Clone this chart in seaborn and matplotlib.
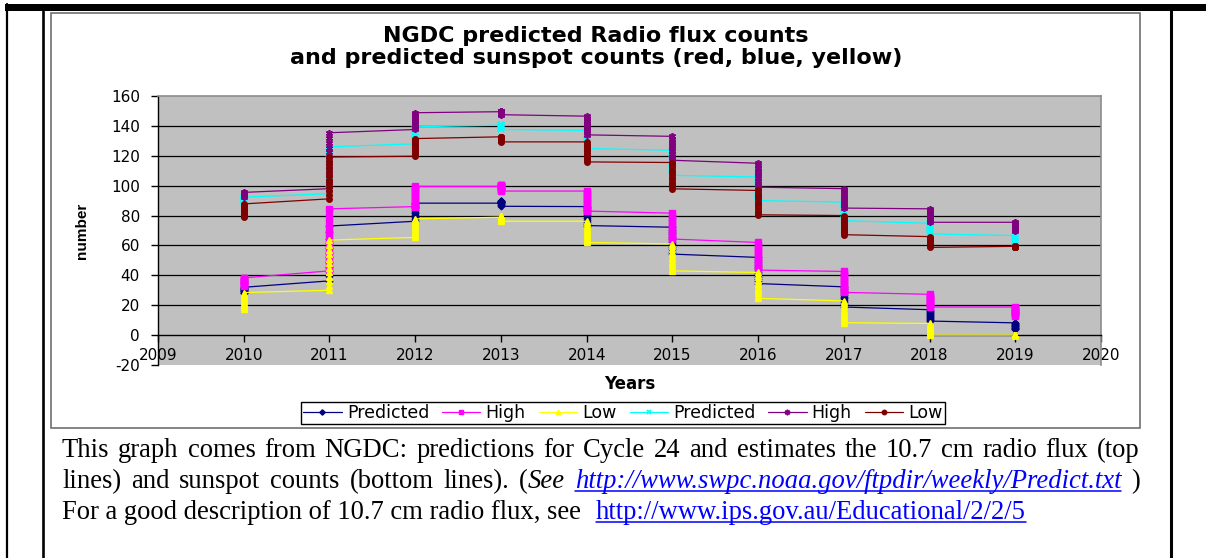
import numpy as np
import pandas as pd
import matplotlib
matplotlib.use("Agg")
import matplotlib.pyplot as plt
import seaborn as sns
from matplotlib.lines import Line2D
from matplotlib.patches import Rectangle

# ---------------- data (monthly values, 12 per year) -------------
years = [2010, 2011, 2012, 2013, 2014, 2015, 2016, 2017, 2018, 2019]

pred_ssn = [
    28, 28.4, 28.8, 29.2, 29.5, 29.9, 30.3, 30.6, 31, 31.3, 31.6, 32,
    36.3, 39.5, 42.6, 45.8, 49, 52, 55, 58, 61.5, 64.5, 68.8, 73,
    76.2, 77.5, 79, 80.2, 81.4, 82.6, 83.7, 84.8, 85.8, 86.7, 87.5, 88.3,
    88.3, 88.8, 89.2, 89.5, 89.6, 89.6, 89.4, 89, 88.5, 87.9, 87.1, 86.2,
    86, 85, 83.9, 82.8, 81.7, 80.6, 79.5, 78.3, 77.1, 75.9, 74.6, 73.3,
    72.2, 70.6, 69, 67.4, 65.8, 64.1, 62.5, 60.8, 59.1, 57.4, 55.8, 54.2,
    52, 50.4, 48.8, 47.2, 45.6, 44, 42.4, 40.8, 39.2, 37.6, 36, 34.5,
    32.3, 31, 29.7, 28.4, 27.1, 25.8, 24.6, 23.4, 22.2, 21, 19.9, 18.8,
    17, 16.3, 15.6, 14.9, 14.2, 13.5, 12.8, 12.1, 11.4, 10.7, 10, 9.4,
    8.2, 7.8, 7.4, 7, 6.6, 6.2, 5.8, 5.4, 5, 4.7, 4.4, 4.1,
]
high_ssn = [
    33, 33.5, 34, 34.5, 35, 35.5, 36, 36.5, 37, 37.5, 38, 38.3,
    43, 46.5, 50, 54, 57.5, 61, 65, 68.5, 72, 76, 80, 84.5,
    86, 87.5, 89, 90, 91.5, 93, 94, 95.5, 96.5, 97.5, 98.5, 99.5,
    99.5, 100, 100.2, 100.3, 100.2, 100, 99.6, 99.2, 98.6, 98, 97.2, 96.4,
    96.4, 95.5, 94.5, 93.3, 92, 91, 89.8, 88.5, 87.2, 85.8, 84.4, 83,
    81.6, 80, 78.3, 76.6, 75, 73.3, 71.6, 70, 68.3, 66.6, 65.2, 64.3,
    62, 60.3, 58.6, 57, 55.3, 53.6, 52, 50.4, 48.8, 47.2, 45.4, 43.5,
    42.6, 41.3, 40, 38.7, 37.4, 36, 34.7, 33.4, 32.2, 31, 29.8, 28.6,
    27.3, 26.5, 25.7, 24.9, 24, 23.3, 22.5, 21.7, 21, 20.2, 19.5, 18.8,
    18.8, 18.2, 17.6, 17.1, 16.6, 16, 15.5, 15, 14.5, 14, 13.5, 13,
]
low_ssn = [
    17.5, 18.5, 19.5, 20.5, 21.5, 22.5, 23.5, 24.5, 25.5, 26.5, 27.5, 28.5,
    30, 33, 36, 39, 42, 45, 48, 51, 54, 57, 60.3, 63.6,
    65.4, 66.7, 68, 69.3, 70.6, 71.8, 73, 74.1, 75.2, 76.2, 77.1, 77.8,
    78.9, 79.3, 79.6, 79.8, 79.8, 79.6, 79.3, 78.9, 78.4, 77.8, 77, 76.2,
    76.2, 75, 73.7, 72.4, 71.1, 69.8, 68.4, 67, 65.6, 64.2, 63, 62,
    61, 59.3, 57.6, 55.9, 54.2, 52.5, 50.8, 49.2, 47.6, 46, 44.5, 43,
    41.9, 40.3, 38.7, 37.1, 35.5, 34, 32.5, 31, 29.5, 28, 26.3, 24.6,
    22.9, 21.4, 19.9, 18.5, 17.1, 15.7, 14.4, 13.1, 11.9, 10.7, 9.5, 8.3,
    7.8, 7, 6.2, 5.4, 4.6, 3.8, 3, 2.3, 1.6, 1, 0.5, 0,
    0, 0, 0, 0, 0, 0, 0, 0, 0, 0, 0, 0,
]
pred_flux = [
    89, 89.3, 89.6, 89.9, 90.2, 90.5, 90.8, 91.1, 91.4, 91.7, 92, 92.3,
    94.6, 97.5, 100.5, 103.5, 106.5, 109.5, 112.3, 115, 117.8, 120.5, 123.2, 126,
    128, 129.2, 130.4, 131.5, 132.6, 133.7, 134.8, 135.8, 136.8, 137.7, 138.6, 139.4,
    140.5, 140.7, 140.8, 140.8, 140.6, 140.3, 140, 139.6, 139.2, 138.7, 138.2, 137.6,
    137, 135.9, 134.8, 133.7, 132.6, 131.5, 130.4, 129.3, 128.2, 127.1, 126, 124.8,
    123.7, 122.2, 120.7, 119.2, 117.6, 116, 114.4, 112.8, 111.2, 109.6, 108.2, 106.9,
    105.8, 104.4, 103, 101.6, 100.2, 98.8, 97.4, 96, 94.6, 93.2, 91.6, 90,
    89, 87.9, 86.8, 85.7, 84.6, 83.5, 82.4, 81.3, 80.2, 79, 77.8, 76.6,
    74.8, 74.2, 73.6, 73, 72.4, 71.8, 71.1, 70.4, 69.7, 69, 68.3, 67.7,
    66.6, 66.1, 65.6, 65.1, 64.6, 64.1, 63.6, 63.1, 62.6, 62.1, 61.6, 61.1,
]
high_flux = [
    92.5, 92.8, 93, 93.3, 93.6, 93.9, 94.2, 94.5, 94.8, 95, 95.3, 95.5,
    98, 101.5, 105, 108.5, 112, 115.5, 119, 122.5, 125.5, 128.5, 132, 135.4,
    137.6, 138.8, 140, 141.2, 142.3, 143.4, 144.5, 145.5, 146.5, 147.4, 148.2, 148.8,
    149.5, 149.8, 150, 150, 149.9, 149.7, 149.4, 149, 148.6, 148.2, 147.8, 147.5,
    146.5, 145.4, 144.3, 143.2, 142.1, 141, 139.9, 138.8, 137.7, 136.5, 135.3, 134,
    133, 131.5, 130, 128.6, 127.2, 125.8, 124.4, 123, 121.5, 120, 118.5, 117,
    115, 113.5, 112, 110.5, 109, 107.6, 106.2, 104.8, 103.4, 102, 100.5, 99,
    98, 96.8, 95.6, 94.4, 93.2, 92, 90.8, 89.6, 88.5, 87.3, 86.1, 85,
    84.5, 83.7, 82.9, 82.1, 81.3, 80.5, 79.7, 78.9, 78, 77.1, 76.3, 75.5,
    75.5, 75, 74.5, 74, 73.5, 73, 72.5, 72, 71.5, 71, 70.5, 70,
]
low_flux = [
    79, 79.8, 80.6, 81.4, 82.2, 83, 83.8, 84.6, 85.4, 86.2, 87, 87.8,
    91.2, 93.8, 96.4, 99, 101.5, 104, 106.6, 109.2, 111.8, 114.3, 116.8, 119.2,
    119.7, 121, 122.3, 123.5, 124.7, 125.9, 127, 128.1, 129.1, 130, 130.8, 131.5,
    132.7, 132.8, 132.8, 132.6, 132.3, 132, 131.6, 131.2, 130.7, 130.2, 129.8, 129.3,
    129.3, 128.1, 126.9, 125.7, 124.5, 123.3, 122.1, 120.8, 119.6, 118.3, 117.1, 115.9,
    115.5, 113.9, 112.3, 110.7, 109.1, 107.5, 105.9, 104.3, 102.7, 101.1, 99.5, 97.9,
    96.8, 95.3, 93.8, 92.3, 90.8, 89.3, 87.8, 86.3, 84.8, 83.3, 81.9, 80.5,
    80, 78.8, 77.6, 76.4, 75.2, 74, 72.8, 71.6, 70.4, 69.2, 68.1, 67.2,
    65.9, 65.3, 64.7, 64.1, 63.4, 62.7, 62, 61.3, 60.6, 59.9, 59.3, 58.7,
    59.4, 59.4, 59.3, 59.3, 59.2, 59.2, 59.1, 59.1, 59, 59, 59, 59,
]

legend_labels = ["Predicted", "High", "Low", "Predicted", "High", "Low"]
y_ticks = [-20, 0, 20, 40, 60, 80, 100, 120, 140, 160]
x_ticks = [2009, 2010, 2011, 2012, 2013, 2014, 2015, 2016, 2017, 2018, 2019, 2020]

title_lines = ["NGDC predicted Radio flux counts",
               "and predicted sunspot counts (red, blue, yellow)"]
caption1 = "This graph comes from NGDC: predictions for Cycle 24 and estimates the 10.7 cm radio flux (top"
caption2_words = ["lines)", "and", "sunspot", "counts", "(bottom", "lines)."]
link1 = "http://www.swpc.noaa.gov/ftpdir/weekly/Predict.txt"
caption3 = "For a good description of 10.7 cm radio flux, see"
link2 = "http://www.ips.gov.au/Educational/2/2/5"

# ---------------- figure -------------
sns.set_theme(style="white")
plt.rcParams['font.family'] = ['DejaVu Sans']
plt.rcParams['axes.unicode_minus'] = False
plt.rcParams['text.color'] = 'black'
plt.rcParams['axes.labelcolor'] = 'black'
plt.rcParams['xtick.color'] = 'black'
plt.rcParams['ytick.color'] = 'black'

W, H = 1208, 558
fig = plt.figure(figsize=(W / 100, H / 100), dpi=100)
fig.patch.set_facecolor("white")

def fx(x):
    return x / W

def fy(y):
    return 1 - y / H

# page frame lines
fig.add_artist(Rectangle((fx(5), fy(11)), fx(1206) - fx(5), fy(4) - fy(11),
                         transform=fig.transFigure, facecolor="black", edgecolor="none"))
for xp, lw, y0 in [(7, 1.6, 4), (43, 1.9, 11), (1171, 2.2, 11)]:
    fig.add_artist(Line2D([fx(xp), fx(xp)], [fy(y0), fy(558)], transform=fig.transFigure,
                          color="black", lw=lw))
# chart box
fig.add_artist(Rectangle((fx(51), fy(428)), fx(1140) - fx(51), fy(13) - fy(428),
                         transform=fig.transFigure, facecolor="white",
                         edgecolor="#707070", lw=1.2, zorder=0))

ax = fig.add_axes([fx(158), fy(365), (1101 - 158) / W, (365 - 96) / H])
ax.set_facecolor("#C0C0C0")
ax.set_xlim(2009, 2020)
ax.set_ylim(-20, 160)

for v in y_ticks:
    if 0 < v < 160:
        ax.axhline(v, color="black", lw=0.9, zorder=1)

x_month = np.repeat(years, 12)
styles = [
    (pred_ssn, "#000080", "D", 3.4, 1.0),
    (high_ssn, "#FF00FF", "s", 3.8, 1.0),
    (low_ssn, "#FFFF00", "^", 4.4, 1.0),
    (pred_flux, "#00FFFF", "x", 4.0, 1.3),
    (high_flux, "#800080", (6, 2, 0), 5.0, 1.2),
    (low_flux, "#800000", "o", 4.0, 1.0),
]
handles = []
for (vals, color, marker, ms, mew), lab in zip(styles, legend_labels):
    df = pd.DataFrame({"year": x_month, "value": vals})
    sns.lineplot(data=df, x="year", y="value", ax=ax, estimator=None, sort=False,
                 color=color, marker=marker, markersize=ms, markeredgecolor=color,
                 markerfacecolor=color, markeredgewidth=mew, linewidth=0.9,
                 legend=False, zorder=3)
    handles.append(Line2D([], [], color=color, marker=marker, markersize=ms * 0.8,
                          markeredgecolor=color, markerfacecolor=color,
                          markeredgewidth=mew, lw=0.9))

ax.set_xticks(x_ticks)
ax.set_yticks(y_ticks)
ax.set_xticklabels([str(t) for t in x_ticks])
ax.set_yticklabels([str(t) for t in y_ticks])
ax.spines["bottom"].set_position(("data", 0))
for s in ["left", "bottom"]:
    ax.spines[s].set_color("black")
    ax.spines[s].set_linewidth(1.0)
for s in ["top", "right"]:
    ax.spines[s].set_color("#8c8c8c")
    ax.spines[s].set_linewidth(1.2)
ax.tick_params(axis="y", direction="out", length=5, width=1, colors="black",
               pad=8, labelsize=11, left=True)
ax.tick_params(axis="x", direction="out", length=5, width=1, colors="black",
               pad=4, labelsize=11, bottom=True)

ax.set_xlabel("Years", fontsize=12, fontweight="bold")
ax.xaxis.set_label_coords(0.5, (365 - 384) / 269)
ax.xaxis.label.set_verticalalignment("center")
ax.set_ylabel("number", fontsize=11, fontweight="bold", family="Liberation Sans")
ax.yaxis.set_label_coords((82 - 158) / 943, 0.5)
ax.yaxis.label.set_verticalalignment("center")
ax.yaxis.label.set_horizontalalignment("center")

fig.text(fx(596), fy(36), title_lines[0], ha="center", va="center",
         fontsize=16, fontweight="bold", color="black")
fig.text(fx(596), fy(58), title_lines[1], ha="center", va="center",
         fontsize=16, fontweight="bold", color="black")

leg = fig.legend(handles, legend_labels, loc="center",
                 bbox_to_anchor=(fx(623), fy(413)), ncol=6, frameon=True,
                 fancybox=False, edgecolor="black", framealpha=1, fontsize=12.5,
                 handlelength=2.2, handletextpad=0.3, columnspacing=0.75,
                 borderpad=0.12, borderaxespad=0)
leg.get_frame().set_linewidth(1.0)

# ---------------- caption (justified text, real text objects) -------------
renderer = fig.canvas.get_renderer()
serif = ["Liberation Serif", "DejaVu Serif"]
cap_size = 19.2
reg = dict(family=serif, fontsize=cap_size, color="black")
ita = dict(family=serif, fontsize=cap_size, color="black", style="italic")
lnk_i = dict(family=serif, fontsize=cap_size, color="#0000FF", style="italic")
lnk = dict(family=serif, fontsize=cap_size, color="#0000FF")

def width_of(txt, props):
    t = fig.text(0, 0, txt, **props)
    w = t.get_window_extent(renderer).width
    t.remove()
    return w

def draw_run(x, base, txt, props, underline=False):
    w = width_of(txt, props)
    fig.text(fx(x), fy(base), txt, ha="left", va="baseline", **props)
    if underline:
        fig.add_artist(Line2D([fx(x), fx(x + w)], [fy(base + 3), fy(base + 3)],
                              transform=fig.transFigure, color=props["color"], lw=1.1))
    return w

def justify(words, x0, x1, base):
    widths = [sum(width_of(t, p) for t, p, u in runs) for runs in words]
    gap = (x1 - x0 - sum(widths)) / (len(words) - 1)
    x = x0
    for runs, w in zip(words, widths):
        xx = x
        for t, p, u in runs:
            xx += draw_run(xx, base, t, p, u)
        x += w + gap

left_x, right_x = 62, 1140
justify([[(w, reg, False)] for w in caption1.split(" ")], left_x, right_x, 457)
line2 = [[(w, reg, False)] for w in caption2_words]
line2 += [[("(", reg, False), ("See", ita, False)], [(link1, lnk_i, True)], [(")", reg, False)]]
justify(line2, left_x, right_x, 488)
w3 = draw_run(left_x, 519, caption3, reg)
space = width_of("a", reg)
draw_run(left_x + w3 + space * 1.3, 519, link2, lnk, True)

fig.savefig("out.png", dpi=100)
